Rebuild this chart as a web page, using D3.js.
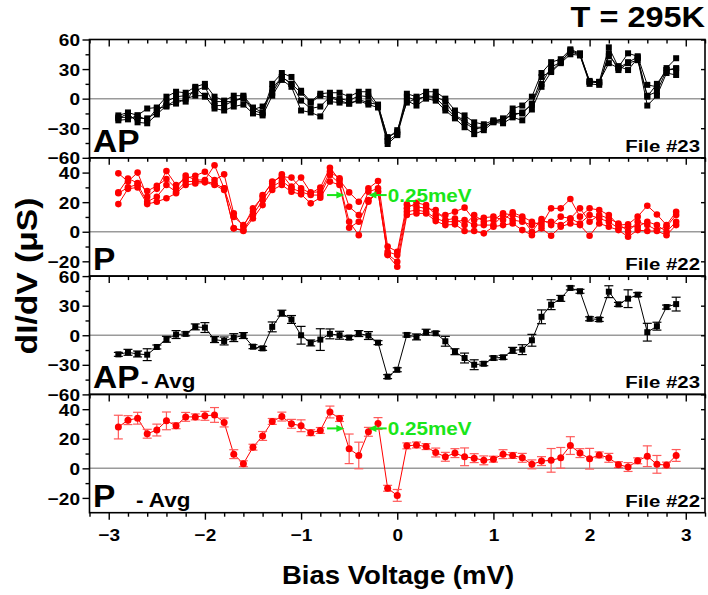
<!DOCTYPE html>
<html><head><meta charset="utf-8">
<script src="https://cdn.jsdelivr.net/npm/d3@7/dist/d3.min.js"></script>
<style>html,body{margin:0;padding:0;background:#fff;}svg{display:block;}</style>
</head><body>
<svg id="c" width="708" height="595"></svg>
<script>
// ---------- DATA ----------
const biasV = [-2.9,-2.8,-2.7,-2.6,-2.5,-2.4,-2.3,-2.2,-2.1,-2.0,
  -1.9,-1.8,-1.7,-1.6,-1.5,-1.4,-1.3,-1.2,-1.1,-1.0,
  -0.9,-0.8,-0.7,-0.6,-0.5,-0.4,-0.3,-0.2,-0.1,0.0,
  0.1,0.2,0.3,0.4,0.5,0.6,0.7,0.8,0.9,1.0,
  1.1,1.2,1.3,1.4,1.5,1.6,1.7,1.8,1.9,2.0,
  2.1,2.2,2.3,2.4,2.5,2.6,2.7,2.8,2.9];

// File #23 (AP) individual sweeps
const ap1 = [-17,-14,-17,-10,-9,2,7,6,12,15, 2,-2,3,3,-9,-14,15,26,22,8, -3,5,6,6,2,7,7,-7,-39,-34, 5,2,7,7,0,-12,-17,-24,-26,-22, -22,-10,-7,2,26,37,40,50,46,17, 17,52,32,46,43,14,12,31,41];
const ap2 = [-19,-19,-20,-20,-14,-3,2,3,8,12, -7,-7,-2,0,-12,-15,10,22,15,-2, -10,-8,2,0,-2,3,2,-8,-43,-36, 2,-2,3,2,-3,-17,-22,-29,-29,-23, -23,-15,-15,-5,15,32,37,48,44,15, 14,46,29,36,39,3,7,29,31];
const ap3 = [-20,-15,-24,-25,-16,-7,-5,0,3,3, -10,-12,-8,-6,-15,-17,3,19,12,-12, -14,-18,-3,-4,-5,-2,-6,-9,-46,-37, -2,-7,0,-2,-12,-20,-29,-36,-32,-24, -25,-19,-22,-11,12,27,36,45,44,17, 16,43,33,29,41,-7,3,26,24];
const ap4 = [-22,-21,-17,-22,-10,-8,-1,-3,11,2, -3,-3,-3,2,-11,-8,6,22,15,6, -4,3,1,-2,-5,-1,-4,-6,-40,-32, -4,0,2,1,-9,-18,-24,-31,-29,-23, -20,-17,-14,-6,22,28,37,49,45,18, 17,36,31,37,42,2,15,29,30];

// File #22 (P) individual sweeps
const p1 = [39.5,34,40,23.7,29,41,31.6,36,37.9,40.6, 35,38.8,12.4,3.4,15.8,23.7,33.9,37.2,36.6,29.3, 26,29.8,43.3,35,26.6,20.3,29.3,34.3,-10,-13.5,
  18.5,16.9,15.8,14.7,7.9,9,4.5,11.3,6.8,7.9, 12.4,11.3,9,0,8.6,4.5,10.2,9,15.8,6.8, 11.3,9,5.6,0,6.8,4.5,1.1,3.4,11.3];
const p2 = [26.6,36,33,27.5,31,35.7,29.3,38,35,35, 45,29.3,10,4.5,13.5,24.8,32.7,38.8,30.5,36.6, 26.6,27,40.6,36.1,16.9,11.3,27,29.3,-13.5,-15.8,
  15.8,19.6,18,11.3,11.3,13.5,16.3,7.9,9.5,10.2, 7.9,13.1,10.2,6.8,4.5,15.8,15.8,22.1,10.2,15.8, 14.7,11.3,4.5,5,10.2,17.6,11.7,4.5,13.5];
const p3 = [26,30,32,20.3,23.7,31.6,27,34,34,34, 32.7,29.3,2.3,1.1,11.3,21.4,30.5,34.3,29.3,27, 24.8,24.8,38.4,32.7,6.8,-2.3,21.4,27,-15.3,-20.3,
  13.5,14.7,13.5,9,6.8,6.8,7.9,4.5,4.5,4.5, 11.3,7.9,6.8,4.5,6.8,6.8,4.5,9,5.6,11.3, 9,6.8,2.3,3.4,3.4,6.8,4.5,0,6.8];
const p4 = [18.7,29,30,18.7,20.3,22.6,26,31.6,32.7,33.4, 31.6,28.2,2.3,0.5,9,18,28.2,31.6,27,25.3, 19.2,23,33.9,31.6,2.7,6.8,20.3,27,-15.8,-23.7,
  11.3,12.4,12.4,7.2,4.5,5,0.5,0.5,-1.1,3.4, 4.5,5.6,1.1,-2.3,2.3,-2.7,3.4,5.6,4.5,-2.7, 5.6,3.4,1.1,-3.4,1.1,0.5,0.5,-2.3,4.5];

// Averages and error bars
const apAvg = [-19.4,-17.3,-19.0,-19.7,-11.9,-4.1,0.7,1.4,8.5,7.8,
  -4.4,-5.8,-2.4,-0.3,-11.6,-13.3,8.5,22.4,16.0,0.0,
  -7.8,-4.4,1.4,0.0,-2.4,1.7,-0.3,-7.5,-42.0,-35.0,
  0.3,-1.7,3.1,2.0,-6.1,-16.7,-23.1,-29.9,-28.9,-23.1,
  -22.4,-15.3,-14.6,-5.1,18.7,31.0,37.4,48.0,44.6,16.7,
  16.0,44.2,31.3,37.1,41.2,3.1,9.2,28.6,31.6];
const apErr = [2,3,3,6,2,3,4,2,3,5, 3,4,4,3,2,2,5,3,4,9, 3,11,5,4,2,3,4,2,2,2,
  2,3,3,2,5,3,5,5,2,2, 2,3,5,6,7,5,3,2,2,2, 2,6,2,9,2,9,4,2,7];
const pAvg = [27.9,32.6,33.9,23.4,25.9,32.1,28.8,34.8,34.8,35.5,
  36.1,31.0,9.6,3.1,14.3,21.9,31.7,35.0,30.1,28.8,
  24.1,25.6,38.1,33.7,13.2,8.7,24.7,30.3,-13.5,-18.3,
  15.2,15.8,14.7,10.7,7.8,10.3,7.8,6.9,5.4,6.2,
  9.6,8.7,7.1,2.7,4.9,5.4,7.1,15.4,10.3,6.5,
  9.1,7.1,2.5,0.9,5.1,8.2,2.7,2.2,8.7];
const pErr = [8,3,4,3,4,6,2,3,2,3, 5,3,3,2,2,3,2,3,3,4, 2,2,4,2,10,9,3,4,2,4,
  2,2,2,3,3,3,6,3,3,2, 3,2,3,3,3,8,7,6,3,7, 2,3,2,3,2,7,6,2,4];

const xTicks = [-3,-2,-1,0,1,2,3];
const apTicks = [60,30,0,-30,-60];
const pTicks = [40,20,0,-20];
const gapArrowsX = [-0.73,-0.55,-0.11,-0.30]; // right arrow tail, head; left arrow tail, head
const gapLabel = "0.25meV";

// ---------- LAYOUT ----------
const svg = d3.select("#c");
const FONT = "'Liberation Sans', Arial, sans-serif";
const L = 89.5, R = 705, TOP = 39.5, PH = 118.3;
const x = d3.scaleLinear().domain([-3.2,3.2]).range([L,R]);
const minorX = d3.range(-32,33,2).map(d=>d/10).filter(d=>Math.abs(d-Math.round(d))>1e-6);

const panels = [
  {dom:[-60,60], ticks:apTicks, minor:[45,15,-15,-45], label:"AP", sub:null, file:"File #23"},
  {dom:[-30,50], ticks:pTicks, minor:[30,10,-10], label:"P", sub:null, file:"File #22"},
  {dom:[-60,60], ticks:apTicks, minor:[45,15,-15,-45], label:"AP", sub:"- Avg", file:"File #23"},
  {dom:[-30,50], ticks:pTicks, minor:[30,10,-10], label:"P", sub:"- Avg", file:"File #22"}
];

function styleAxis(g){
  g.selectAll("path.domain").attr("stroke","#000").attr("stroke-width",1.6);
  g.selectAll(".tick line").attr("stroke","#000").attr("stroke-width",1.4);
}
const TSX = 1.12, TFS = 17;

panels.forEach((p,i)=>{
  const y0 = TOP + i*PH, y1 = y0 + PH;
  p.y = d3.scaleLinear().domain(p.dom).range([y1,y0]);
  const g = svg.append("g");
  g.append("line").attr("x1",L).attr("x2",R).attr("y1",p.y(0)).attr("y2",p.y(0))
    .attr("stroke","#9a9a9a").attr("stroke-width",1.5);
  const la = g.append("g").attr("transform",`translate(${L},0)`)
    .call(d3.axisLeft(p.y).tickValues(p.ticks).tickSize(7).tickPadding(3).tickFormat(d3.format("d")));
  styleAxis(la);
  la.selectAll("text").attr("x",null).attr("dy","0.36em")
    .attr("transform",`translate(-9.5,0) scale(${TSX},1)`)
    .attr("font-family",FONT).attr("font-weight","bold").attr("font-size",TFS).attr("fill","#000");
  const lm = g.append("g").attr("transform",`translate(${L},0)`)
    .call(d3.axisLeft(p.y).tickValues(p.minor).tickSize(4).tickFormat(""));
  styleAxis(lm);
  const ra = g.append("g").attr("transform",`translate(${R},0)`)
    .call(d3.axisLeft(p.y).tickValues(p.ticks).tickSize(4).tickFormat(""));
  styleAxis(ra);
  const ta = g.append("g").attr("transform",`translate(0,${y0})`)
    .call(d3.axisBottom(x).tickValues(xTicks).tickSize(7).tickFormat(""));
  styleAxis(ta);
  const tm = g.append("g").attr("transform",`translate(0,${y0})`)
    .call(d3.axisBottom(x).tickValues(minorX).tickSize(4).tickFormat(""));
  styleAxis(tm);
  g.selectAll("path.domain").remove();
  g.append("rect").attr("x",L).attr("y",y0).attr("width",R-L).attr("height",PH)
    .attr("fill","none").attr("stroke","#000").attr("stroke-width",1.6);
});

// bottom axis
const yB = TOP + 4*PH;
const ba = svg.append("g").attr("transform",`translate(0,${yB})`)
  .call(d3.axisBottom(x).tickValues(xTicks).tickSize(7).tickPadding(9).tickFormat(d3.format("d")));
styleAxis(ba);
ba.selectAll("text").attr("transform",`scale(${TSX},1)`).attr("font-family",FONT)
  .attr("font-weight","bold").attr("font-size",TFS).attr("fill","#000");
const bm = svg.append("g").attr("transform",`translate(0,${yB})`)
  .call(d3.axisBottom(x).tickValues(minorX).tickSize(4).tickFormat(""));
styleAxis(bm);
svg.selectAll("path.domain").remove();

// ---------- DATA MARKS ----------
function traces(p, series, color, shape, sw){
  const line = d3.line().x((d,i)=>x(biasV[i])).y(d=>p.y(d));
  const g = svg.append("g");
  series.forEach(s=>{
    g.append("path").attr("d",line(s)).attr("fill","none").attr("stroke",color).attr("stroke-width",sw);
  });
  series.forEach(s=>{
    s.forEach((v,i)=>{
      if(shape==="sq") g.append("rect").attr("x",x(biasV[i])-3).attr("y",p.y(v)-3).attr("width",6).attr("height",6).attr("fill",color);
      else g.append("circle").attr("cx",x(biasV[i])).attr("cy",p.y(v)).attr("r",3.3).attr("fill",color);
    });
  });
}
traces(panels[0],[ap1,ap2,ap3,ap4],"#000","sq",1);
traces(panels[1],[p1,p2,p3,p4],"#ff0000","ci",1);

function avgPlot(p, vals, errs, color, ecolor, shape){
  const g = svg.append("g");
  const line = d3.line().x((d,i)=>x(biasV[i])).y(d=>p.y(d));
  g.append("path").attr("d",line(vals)).attr("fill","none").attr("stroke",color).attr("stroke-width",1);
  vals.forEach((v,i)=>{
    const cx = x(biasV[i]), yt = p.y(v+errs[i]), yb = p.y(v-errs[i]);
    g.append("line").attr("x1",cx).attr("x2",cx).attr("y1",yt).attr("y2",yb).attr("stroke",ecolor).attr("stroke-width",1.2);
    [yt,yb].forEach(yy=>g.append("line").attr("x1",cx-4.5).attr("x2",cx+4.5).attr("y1",yy).attr("y2",yy).attr("stroke",ecolor).attr("stroke-width",1.2));
  });
  vals.forEach((v,i)=>{
    if(shape==="sq") g.append("rect").attr("x",x(biasV[i])-3).attr("y",p.y(v)-3).attr("width",6).attr("height",6).attr("fill",color);
    else g.append("circle").attr("cx",x(biasV[i])).attr("cy",p.y(v)).attr("r",3.5).attr("fill",color);
  });
}
avgPlot(panels[2], apAvg, apErr, "#000", "#000", "sq");
avgPlot(panels[3], pAvg, pErr, "#ff0000", "#ff5a5a", "ci");

// ---------- GAP ARROWS ----------
const GREEN = "#19e619";
function arrow(p, yv){
  const yy = p.y(yv);
  const g = svg.append("g");
  [[gapArrowsX[0],gapArrowsX[1]],[gapArrowsX[2],gapArrowsX[3]]].forEach(([t,h])=>{
    const xt = x(t), xh = x(h), dir = Math.sign(xh-xt);
    g.append("line").attr("x1",xt).attr("x2",xh-dir*6).attr("y1",yy).attr("y2",yy).attr("stroke",GREEN).attr("stroke-width",2);
    g.append("path").attr("d",`M${xh},${yy}L${xh-dir*8},${yy-3.5}L${xh-dir*8},${yy+3.5}Z`).attr("fill",GREEN);
  });
  g.append("text").attr("transform",`translate(${x(gapArrowsX[2])+1},${yy+6.5}) scale(1.15,1)`)
    .attr("font-family",FONT).attr("font-weight","bold").attr("font-size",18).attr("fill",GREEN).text(gapLabel);
}
arrow(panels[1], 24.8);
arrow(panels[3], 27);

// ---------- TEXT ----------
function txt(xp, yp, s, size, sx, anchor, extra){
  return svg.append("text").attr("transform",`translate(${xp},${yp}) ${extra||""} scale(${sx},1)`)
    .attr("font-family",FONT).attr("font-weight","bold").attr("font-size",size)
    .attr("text-anchor",anchor||"start").attr("fill","#000").text(s);
}
panels.forEach((p,i)=>{
  const y1 = TOP + (i+1)*PH;
  txt(93, y1-6, p.label, 31, 1.08);
  if(p.sub) txt(i===2?141:136, y1-6, p.sub, 19.5, 1.15);
  txt(700, y1-6, p.file, 17, 1.2, "end");
});
txt(705, 27, "T = 295K", 29, 1.12, "end");
txt(398, 584, "Bias Voltage (mV)", 26, 1.06, "middle");
txt(37, 276, "dI/dV (μS)", 30, 1.12, "middle", "rotate(-90)");
</script>
</body></html>
